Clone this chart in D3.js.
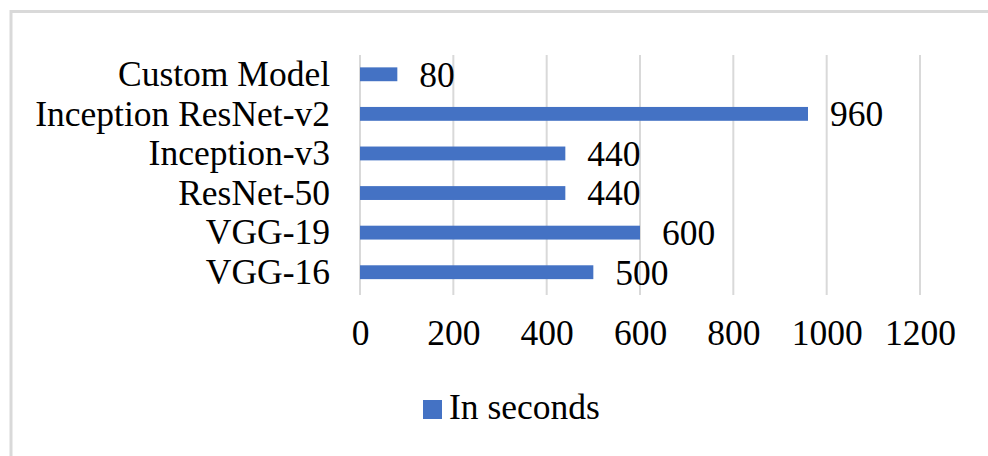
<!DOCTYPE html>
<html>
<head>
<meta charset="utf-8">
<script src="https://cdn.jsdelivr.net/npm/d3@7"></script>
<style>
  html, body { margin: 0; padding: 0; background: #fff; }
  svg { display: block; }
  text { font-family: "Liberation Serif", "Times New Roman", serif; fill: #000; }
</style>
</head>
<body>
<svg id="chart" width="988" height="456"></svg>
<script>
// Training time per model (seconds)
const categories = ["Custom Model", "Inception ResNet-v2", "Inception-v3", "ResNet-50", "VGG-19", "VGG-16"];
const seconds = [80, 960, 440, 440, 600, 500];
const xTicks = [0, 200, 400, 600, 800, 1000, 1200];
const seriesName = "In seconds";

const barColor = "#4472C4";
const gridColor = "#d9d9d9";
const fontSize = 35.5;
const serif = '"Liberation Serif", "Times New Roman", serif';

const svg = d3.select("#chart");

// outer frame of the chart area
svg.append("rect")
  .attr("x", 11).attr("y", 11.5)
  .attr("width", 1000).attr("height", 500)
  .attr("fill", "none")
  .attr("stroke", gridColor)
  .attr("stroke-width", 3);

const x = d3.scaleLinear().domain([0, 1200]).range([360, 920]);
const y = d3.scaleBand().domain(categories).range([54.5, 292])
  .paddingInner(0.65).paddingOuter(0.325);

const gridTop = 55, gridBottom = 295;

// vertical gridlines
svg.append("g").selectAll("line")
  .data(xTicks)
  .join("line")
  .attr("x1", d => x(d)).attr("x2", d => x(d))
  .attr("y1", gridTop).attr("y2", gridBottom)
  .attr("stroke", gridColor)
  .attr("stroke-width", 2);

// x axis tick labels
const xAxis = d3.axisBottom(x).tickValues(xTicks).tickFormat(d3.format("d"))
  .tickSize(0).tickPadding(0);
const gx = svg.append("g").attr("transform", `translate(0, 345)`).call(xAxis);
gx.select(".domain").remove();
gx.selectAll("text")
  .attr("y", 0).attr("dy", 0)
  .style("font-family", serif)
  .style("font-size", fontSize + "px")
  .attr("fill", "#000");

// y axis category labels
const yAxis = d3.axisLeft(y).tickSize(0).tickPadding(0);
const gy = svg.append("g").attr("transform", `translate(330, 0)`).call(yAxis);
gy.select(".domain").remove();
gy.selectAll("text")
  .attr("dy", "0.33em")
  .style("font-family", serif)
  .style("font-size", fontSize + "px")
  .attr("fill", "#000");

// bars
svg.append("g").selectAll("rect")
  .data(categories)
  .join("rect")
  .attr("x", x(0))
  .attr("y", d => y(d))
  .attr("width", (d, i) => x(seconds[i]) - x(0))
  .attr("height", y.bandwidth())
  .attr("fill", barColor);

// value labels
svg.append("g").selectAll("text")
  .data(categories)
  .join("text")
  .attr("x", (d, i) => x(seconds[i]) + 22)
  .attr("y", d => y(d) + y.bandwidth() / 2)
  .attr("dy", "0.35em")
  .style("font-size", fontSize + "px")
  .text((d, i) => seconds[i]);

// legend
const legend = svg.append("g").attr("transform", "translate(423, 400)");
legend.append("rect")
  .attr("width", 19).attr("height", 19)
  .attr("fill", barColor);
legend.append("text")
  .attr("x", 26).attr("y", 19)
  .style("font-size", fontSize + "px")
  .text(seriesName);
</script>
</body>
</html>
